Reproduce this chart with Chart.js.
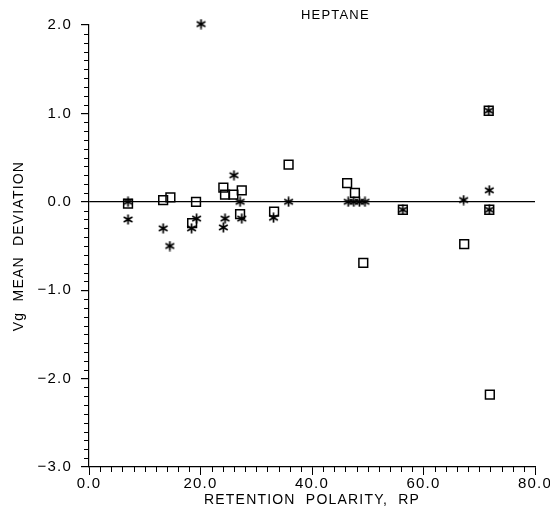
<!DOCTYPE html>
<html>
<head>
<meta charset="utf-8">
<script src="https://cdn.jsdelivr.net/npm/chart.js@4"></script>
<style>
  html, body { margin: 0; padding: 0; background: #fff; }
  #wrap { width: 550px; height: 509px; }
</style>
</head>
<body>
<div id="wrap"><canvas id="plot" width="550" height="509"></canvas></div>
<script>
// --- Data ---
// open squares
const squareRP  = [7.0, 13.3, 14.6, 18.5, 19.2, 24.1, 24.4, 25.9, 27.1, 27.4, 33.2, 35.8, 46.3, 47.7, 49.2, 56.3, 67.3, 71.7, 71.8, 71.9];
const squareDev = [-0.02, 0.02, 0.05, -0.24, 0.0, 0.16, 0.08, 0.08, -0.14, 0.13, -0.11, 0.42, 0.21, 0.10, -0.69, -0.09, -0.48, 1.03, -0.09, -2.18];

// asterisks
const starRP  = [7.0, 7.0, 13.3, 14.5, 18.4, 19.3, 20.1, 24.1, 24.4, 26.0, 27.1, 27.4, 33.1, 35.8, 46.5, 47.5, 48.5, 49.5, 56.3, 67.2, 71.7, 71.8, 71.8];
const starDev = [0.0, -0.2, -0.3, -0.5, -0.3, -0.19, 2.01, -0.29, -0.19, 0.3, 0.0, -0.19, -0.18, 0.0, 0.0, 0.0, 0.0, 0.0, -0.09, 0.02, 1.03, 0.13, -0.09];

const xTicks = [0, 20, 40, 60, 80];
const yTicks = [-3, -2, -1, 0, 1, 2];

const FONT = '"Liberation Sans", Arial, sans-serif';

function toPoints(xs, ys) {
    return xs.map((x, i) => ({ x: x, y: ys[i] }));
}

function fmt(v) {
    return v.toFixed(1).replace('-', '\u2212');
}

// six-spoke asterisk marker
function makeAsterisk(size) {
    const c = document.createElement('canvas');
    c.width = size;
    c.height = size;
    const g = c.getContext('2d');
    const r = size / 2 - 0.5;
    g.translate(size / 2, size / 2);
    g.strokeStyle = '#000';
    g.lineWidth = 1.7;
    g.beginPath();
    for (let k = 0; k < 3; k++) {
        const a = Math.PI / 2 + k * Math.PI / 3;
        g.moveTo(Math.cos(a) * r, Math.sin(a) * r);
        g.lineTo(-Math.cos(a) * r, -Math.sin(a) * r);
    }
    g.stroke();
    return c;
}

// minor ticks + heading
const decor = {
    id: 'decor',
    beforeDraw(chart) {
        // the plotter lettering is wide, spread it a little
        chart.ctx.letterSpacing = '1.2px';
    },
    afterDraw(chart) {
        const g = chart.ctx;
        const xs = chart.scales.x;
        const ys = chart.scales.y;
        g.save();
        g.strokeStyle = '#000';
        g.lineWidth = 1;
        g.beginPath();
        for (let i = -30; i <= 20; i++) {
            if (i % 10 === 0) continue;
            const py = Math.round(ys.getPixelForValue(i / 10)) + 0.5;
            g.moveTo(xs.left, py);
            g.lineTo(xs.left - 5, py);
        }
        for (let i = 0; i <= 80; i += 2) {
            if (i % 20 === 0) continue;
            const px = Math.round(xs.getPixelForValue(i)) + 0.5;
            g.moveTo(px, ys.bottom);
            g.lineTo(px, ys.bottom + 5);
        }
        g.stroke();

        g.fillStyle = '#000';
        g.font = '13px ' + FONT;
        g.textAlign = 'center';
        g.textBaseline = 'middle';
        g.fillText('HEPTANE', xs.getPixelForValue(44.2), 15);
        g.restore();
    }
};

new Chart(document.getElementById('plot'), {
    type: 'scatter',
    data: {
        datasets: [{
            label: 'squares',
            data: toPoints(squareRP, squareDev),
            pointStyle: 'rect',
            pointRadius: 6.2,
            pointHoverRadius: 6.2,
            borderColor: '#000',
            backgroundColor: 'rgba(255,255,255,0)',
            borderWidth: 1.5,
            clip: false
        }, {
            label: 'asterisks',
            data: toPoints(starRP, starDev),
            pointStyle: makeAsterisk(11),
            pointRadius: 5,
            borderColor: '#000',
            backgroundColor: '#000',
            clip: false
        }]
    },
    options: {
        responsive: false,
        animation: false,
        events: [],
        layout: { padding: { top: 25, right: 15, left: 0, bottom: 0 } },
        plugins: {
            legend: { display: false },
            tooltip: { enabled: false }
        },
        scales: {
            x: {
                type: 'linear',
                min: 0,
                max: 80,
                afterBuildTicks: (s) => { s.ticks = xTicks.map(v => ({ value: v })); },
                afterFit: (s) => { s.height = 42; },
                border: { display: true, color: '#000', width: 1.2 },
                grid: { drawOnChartArea: false, drawTicks: true, tickLength: 8, tickColor: '#000', tickWidth: 1 },
                ticks: {
                    color: '#000',
                    font: { family: FONT, size: 15 },
                    padding: 0,
                    maxRotation: 0,
                    callback: (v) => fmt(v)
                },
                title: {
                    display: true,
                    text: 'RETENTION  POLARITY,  RP',
                    color: '#000',
                    font: { family: FONT, size: 14 },
                    padding: { top: 0, bottom: 0 }
                }
            },
            y: {
                type: 'linear',
                min: -3,
                max: 2,
                afterBuildTicks: (s) => { s.ticks = yTicks.map(v => ({ value: v })); },
                afterFit: (s) => { s.width = 89; },
                border: { display: true, color: '#000', width: 1.2 },
                grid: {
                    drawOnChartArea: true,
                    drawTicks: true,
                    tickLength: 8,
                    tickColor: '#000',
                    color: (c) => (c.tick && c.tick.value === 0) ? '#000' : 'rgba(0,0,0,0)',
                    lineWidth: 1.2
                },
                ticks: {
                    color: '#000',
                    font: { family: FONT, size: 15 },
                    padding: 9,
                    callback: (v) => fmt(v)
                },
                title: {
                    display: true,
                    text: 'Vg  MEAN  DEVIATION',
                    color: '#000',
                    font: { family: FONT, size: 14 },
                    padding: { top: 11, bottom: 0 }
                }
            }
        }
    },
    plugins: [decor]
});
</script>
</body>
</html>
